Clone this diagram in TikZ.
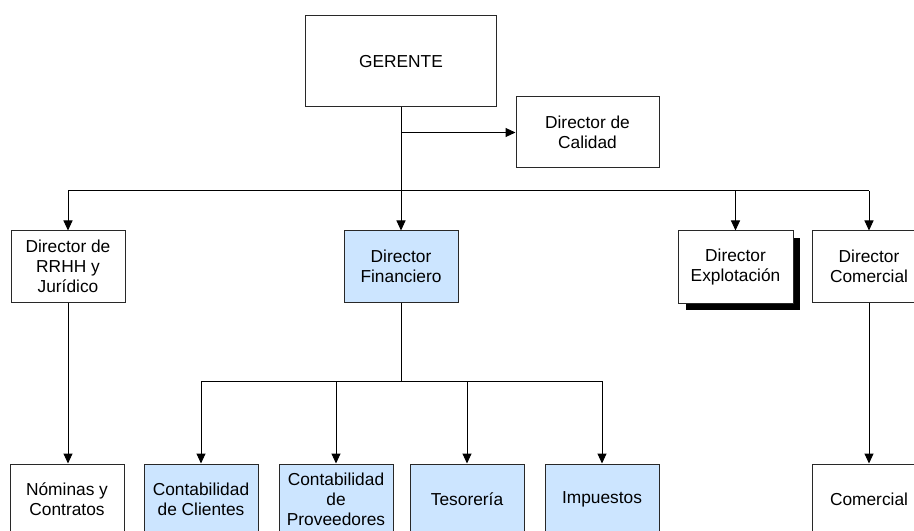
\documentclass[tikz,border=0pt]{standalone}
\usepackage{fontspec}
\setmainfont{Liberation Sans}
\usetikzlibrary{arrows.meta,calc}
\definecolor{lblue}{RGB}{204,229,255}
\definecolor{bord}{RGB}{40,40,40}
\begin{document}
\begin{tikzpicture}[x=0.75pt,y=-0.75pt,
  box/.style={draw=bord,line width=0.75pt,fill=white,rectangle,align=center,
    minimum width=85.5pt,minimum height=53.25pt,inner sep=1pt,
    font=\fontsize{13}{15}\selectfont},
  bluebox/.style={box,fill=lblue},
  conn/.style={line width=0.75pt,black},
  arr/.style={conn,-{Triangle[length=7.5pt,width=6.75pt]}}]
\useasboundingbox (0,0) rectangle (914,531);
\node[box,minimum width=143.25pt,minimum height=68.25pt] (ger) at (401,61.5) {GERENTE};
\node[box,minimum width=107.25pt] (cal) at (587.5,132.5) {Director de\\Calidad};
\node[box] (rrhh) at (68,266.5) {Director de\\RRHH y\\Jurídico};
\node[bluebox] (fin) at (401,266.5) {Director\\Financiero};
\fill[black] (686,238) rectangle (800,310);
\node[box,minimum width=86.25pt,minimum height=54pt] (expl) at (735.5,267) {Director\\Explotación};
\node[box] (com) at (869,266.5) {Director\\Comercial};
\node[box] (nom) at (67,499.5) {Nóminas y\\Contratos};
\node[bluebox] (cli) at (201,499.5) {Contabilidad\\de Clientes};
\node[bluebox] (prov) at (336,499.5) {Contabilidad\\de\\Proveedores};
\node[bluebox] (tes) at (467,499.5) {Tesorería};
\node[bluebox] (imp) at (602,499.5) {Impuestos};
\node[box] (comr) at (869,499.5) {Comercial};
\coordinate (b1) at (401,191);
\coordinate (b2) at (401,381);
\draw[conn] (ger.south) -- (b1);
\draw[arr] (ger.south |- cal.west) -- (cal.west);
\draw[conn] (b1 -| rrhh) -- (b1 -| com);
\foreach \n in {rrhh,fin,expl,com}{\draw[arr] (b1 -| \n) -- (\n.north);}
\draw[conn] (fin.south) -- (b2);
\draw[conn] (b2 -| cli) -- (b2 -| imp);
\foreach \n in {cli,prov,tes,imp}{\draw[arr] (b2 -| \n) -- (\n.north);}
\draw[arr] (rrhh.south) -- (rrhh.south |- nom.north);
\draw[arr] (com.south) -- (comr.north);
\end{tikzpicture}
\end{document}
